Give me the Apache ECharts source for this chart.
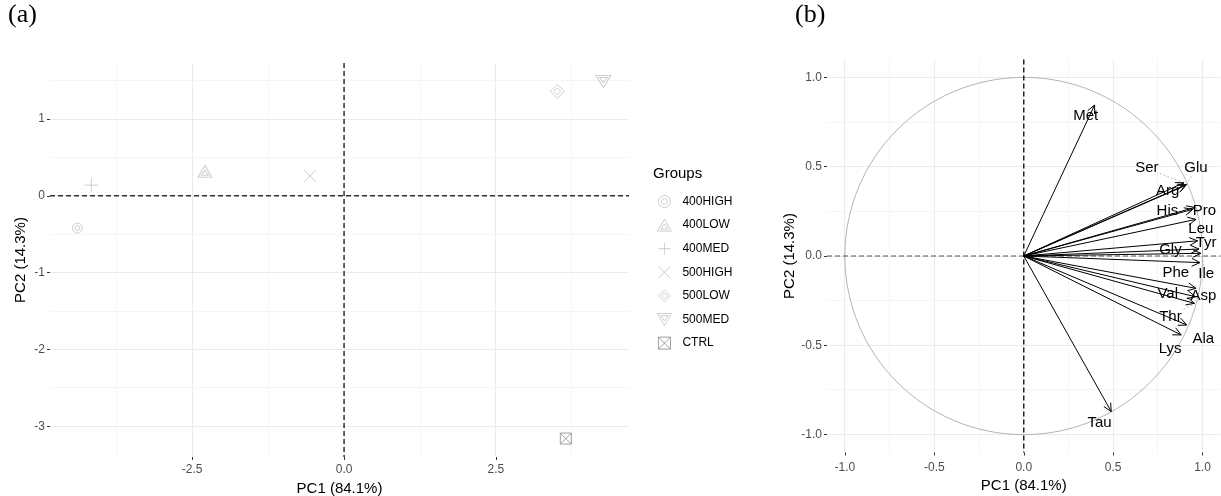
<!DOCTYPE html>
<html><head><meta charset="utf-8">
<script src="https://cdn.jsdelivr.net/npm/echarts@6/dist/echarts.min.js"></script>
<style>html,body{margin:0;padding:0;background:#fff}#c{width:1221px;height:496px}</style>
</head><body><div id="c"></div>
<script>
// ---------- Panel (a): PCA scores ----------
const groups = ['400HIGH', '400LOW', '400MED', '500HIGH', '500LOW', '500MED', 'CTRL'];
const pc1 = [-4.39, -2.29, -4.16, -0.56, 3.51, 4.27, 3.65];
const pc2 = [-0.42, 0.32, 0.14, 0.26, 1.36, 1.49, -3.16];
const aTicksX = [-2.5, 0, 2.5];
const aTicksY = [-3, -2, -1, 0, 1];
const aMinorX = [-3.75, -1.25, 1.25, 3.75];
const aMinorY = [-2.5, -1.5, -0.5, 0.5, 1.5];

// ---------- Panel (b): variable loadings ----------
const vars = ['Met', 'Ser', 'Glu', 'Arg', 'His', 'Pro', 'Leu', 'Tyr', 'Gly', 'Ile', 'Phe', 'Asp', 'Val', 'Thr', 'Ala', 'Lys', 'Tau'];
const loadX = [0.396, 0.895, 0.91, 0.905, 0.944, 0.957, 0.963, 0.972, 0.98, 0.99, 0.985, 0.963, 0.96, 0.954, 0.911, 0.88, 0.489];
const loadY = [0.845, 0.41, 0.40, 0.395, 0.261, 0.272, 0.205, 0.085, 0.039, 0.015, -0.037, -0.181, -0.228, -0.265, -0.386, -0.442, -0.871];
const labX = [0.346, 0.688, 0.963, 0.805, 0.803, 1.01, 0.99, 1.02, 0.82, 1.02, 0.85, 1.004, 0.805, 0.82, 1.004, 0.818, 0.424];
const labY = [0.783, 0.491, 0.491, 0.365, 0.252, 0.252, 0.153, 0.075, 0.034, -0.10, -0.093, -0.222, -0.214, -0.34, -0.464, -0.522, -0.936];
const connectVars = ['Ser', 'Glu', 'Ile', 'Asp', 'Thr'];
const bTicks = [-1, -0.5, 0, 0.5, 1];
const bMinor = [-0.75, -0.25, 0.25, 0.75];

const FONT = '"Liberation Sans", Arial, sans-serif';
const symbols = {
  '400HIGH': {p: 'path://M0,-10A10,10,0,1,1,0,10A10,10,0,1,1,0,-10ZM0,-5A5,5,0,1,1,0,5A5,5,0,1,1,0,-5Z', s: [10, 10]},
  '400LOW': {p: 'path://M0,-10L10,7.3L-10,7.3ZM0,-3L5.2,4.3L-5.2,4.3Z', s: [14, 12]},
  '400MED': {p: 'path://M-10,0L10,0M0,-10L0,10', s: [14, 14]},
  '500HIGH': {p: 'path://M-10,-10L10,10M10,-10L-10,10', s: [12, 12]},
  '500LOW': {p: 'path://M0,-10L10,0L0,10L-10,0ZM0,-5L5,0L0,5L-5,0Z', s: [14, 14]},
  '500MED': {p: 'path://M0,10L10,-7.3L-10,-7.3ZM0,3L5.2,-4.3L-5.2,-4.3Z', s: [15, 12]},
  'CTRL': {p: 'path://M-10,-10L10,-10L10,10L-10,10ZM-10,-10L10,10M10,-10L-10,10', s: [11, 11]}
};
function markerColor(g) { return g === 'CTRL' ? '#8a8a8a' : '#c2c2c2'; }

function crisp(v) { return Math.round(v - 0.5) + 0.5; }

function gridSeries(xi, yi, majX, minX, majY, minY) {
  const data = [];
  majX.forEach(v => data.push([v, 0, 0]));
  minX.forEach(v => data.push([v, 0, 1]));
  majY.forEach(v => data.push([v, 1, 0]));
  minY.forEach(v => data.push([v, 1, 1]));
  return {
    type: 'custom', xAxisIndex: xi, yAxisIndex: yi, silent: true, z: 0,
    data: data.map(d => ({value: [d[1] === 0 ? d[0] : 0, d[1] === 1 ? d[0] : 0, d[1], d[2]]})),
    renderItem: function (params, api) {
      const cs = params.coordSys;
      const o = api.value(2), m = api.value(3);
      const style = {stroke: m ? '#f3f3f3' : '#ebebeb', lineWidth: m ? 0.8 : 1.1};
      if (o === 0) {
        const x = crisp(api.coord([api.value(0), 0])[0]);
        return {type: 'line', shape: {x1: x, y1: cs.y, x2: x, y2: cs.y + cs.height}, style};
      }
      const y = crisp(api.coord([0, api.value(1)])[1]);
      return {type: 'line', shape: {x1: cs.x, y1: y, x2: cs.x + cs.width, y2: y}, style};
    }
  };
}

function zeroSeries(xi, yi, vStyle, hStyle) {
  return {
    type: 'custom', xAxisIndex: xi, yAxisIndex: yi, silent: true, z: 2,
    data: [{value: [0, 0]}],
    renderItem: function (params, api) {
      const cs = params.coordSys;
      const p = api.coord([0, 0]);
      return {type: 'group', children: [
        {type: 'line', shape: {x1: cs.x, y1: p[1], x2: cs.x + cs.width, y2: p[1]}, style: hStyle},
        {type: 'line', shape: {x1: p[0], y1: cs.y, x2: p[0], y2: cs.y + cs.height}, style: vStyle}
      ]};
    }
  };
}

const series = [];
series.push(gridSeries(0, 0, aTicksX, aMinorX, aTicksY, aMinorY));
series.push(gridSeries(1, 1, bTicks, bMinor, bTicks, bMinor));
series.push(zeroSeries(0, 0,
  {stroke: '#333', lineWidth: 1.5, lineDash: [5, 3]},
  {stroke: '#333', lineWidth: 1.5, lineDash: [5, 3]}));

groups.forEach((g, i) => {
  series.push({
    type: 'scatter', name: g, xAxisIndex: 0, yAxisIndex: 0, z: 5,
    symbol: symbols[g].p, symbolSize: symbols[g].s,
    itemStyle: {color: 'rgba(0,0,0,0)', borderColor: markerColor(g), borderWidth: 1},
    emphasis: {disabled: true},
    data: [[pc1[i], pc2[i]]]
  });
});

// circle of correlations
series.push({
  type: 'custom', xAxisIndex: 1, yAxisIndex: 1, silent: true, z: 1,
  data: [{value: [0, 0]}],
  renderItem: function (params, api) {
    const c = api.coord([0, 0]);
    const r = api.size([1, 1]);
    return {type: 'ellipse', shape: {cx: c[0], cy: c[1], rx: r[0], ry: r[1]},
      style: {fill: 'none', stroke: '#b5b5b5', lineWidth: 1}};
  }
});
series.push(zeroSeries(1, 1,
  {stroke: '#222', lineWidth: 1.5, lineDash: [5, 3]},
  {stroke: '#555', lineWidth: 1, lineDash: [5, 3]}));

// connector segments (label -> arrow tip)
series.push({
  type: 'custom', xAxisIndex: 1, yAxisIndex: 1, silent: true, z: 3,
  data: connectVars.map(n => { const i = vars.indexOf(n); return {value: [labX[i], labY[i], loadX[i], loadY[i]]}; }),
  renderItem: function (params, api) {
    const s = api.coord([api.value(0), api.value(1)]);
    const e = api.coord([api.value(2), api.value(3)]);
    const dx = e[0] - s[0], dy = e[1] - s[1];
    const t = Math.min(13 / Math.max(Math.abs(dx), 1e-6), 8 / Math.max(Math.abs(dy), 1e-6));
    const sx = s[0] + dx * Math.min(t, 0.95), sy = s[1] + dy * Math.min(t, 0.95);
    return {type: 'line', shape: {x1: sx, y1: sy, x2: e[0], y2: e[1]},
      style: {stroke: '#9a9a9a', lineWidth: 0.7, lineDash: [2, 2]}};
  }
});

// arrows
series.push({
  type: 'custom', xAxisIndex: 1, yAxisIndex: 1, silent: true, z: 4,
  data: vars.map((n, i) => ({value: [loadX[i], loadY[i]]})),
  renderItem: function (params, api) {
    const o = api.coord([0, 0]);
    const p = api.coord([api.value(0), api.value(1)]);
    const ang = Math.atan2(p[1] - o[1], p[0] - o[0]);
    const L = 9, a = Math.PI / 7;
    const h1 = [p[0] - L * Math.cos(ang - a), p[1] - L * Math.sin(ang - a)];
    const h2 = [p[0] - L * Math.cos(ang + a), p[1] - L * Math.sin(ang + a)];
    return {type: 'group', children: [
      {type: 'line', shape: {x1: o[0], y1: o[1], x2: p[0], y2: p[1]}, style: {stroke: '#000', lineWidth: 1}},
      {type: 'polyline', shape: {points: [h1, p, h2]}, style: {stroke: '#000', fill: 'none', lineWidth: 1}}
    ]};
  }
});

// variable labels
series.push({
  type: 'custom', xAxisIndex: 1, yAxisIndex: 1, silent: true, z: 6,
  data: vars.map((n, i) => ({value: [labX[i], labY[i], i]})),
  renderItem: function (params, api) {
    const p = api.coord([api.value(0), api.value(1)]);
    return {type: 'text', x: p[0], y: p[1],
      style: {text: vars[api.value(2)], fill: '#000', font: '15px ' + FONT, align: 'center', verticalAlign: 'middle'}};
  }
});

function axisCommon(ticks, fmt, margin, extra) {
  return Object.assign({
    type: 'value',
    splitLine: {show: false},
    axisLine: {show: false, onZero: false},
    axisTick: {show: true, length: 3, lineStyle: {color: '#333', width: 1}, customValues: ticks},
    axisLabel: {show: true, customValues: ticks, formatter: fmt, color: '#4d4d4d', fontSize: 12, fontFamily: FONT, margin: margin},
    nameLocation: 'middle',
    nameTextStyle: {fontSize: 15, color: '#000', fontFamily: FONT}
  }, extra);
}

const option = {
  animation: false,
  backgroundColor: '#fff',
  grid: [
    {left: 50, top: 63, width: 579, height: 394, containLabel: false, outerBoundsMode: 'none'},
    {left: 827, top: 59.5, width: 393.5, height: 393, containLabel: false, outerBoundsMode: 'none'}
  ],
  xAxis: [
    axisCommon(aTicksX, v => v.toFixed(1), 7, {gridIndex: 0, min: -4.84, max: 4.69, name: 'PC1 (84.1%)', nameGap: 22}),
    axisCommon(bTicks, v => v.toFixed(1), 9, {gridIndex: 1, min: -1.1, max: 1.1, name: 'PC1 (84.1%)', nameGap: 24})
  ],
  yAxis: [
    axisCommon(aTicksY, v => String(v), 5, {gridIndex: 0, min: -3.40, max: 1.73, name: 'PC2 (14.3%)', nameGap: 22}),
    axisCommon(bTicks, v => v.toFixed(1), 5, {gridIndex: 1, min: -1.1, max: 1.1, name: 'PC2 (14.3%)', nameGap: 27})
  ],
  legend: {
    show: true, orient: 'vertical', left: 652, top: 190,
    itemWidth: 26, itemHeight: 12, itemGap: 10.6, symbolKeepAspect: true,
    textStyle: {fontSize: 12, color: '#000', fontFamily: FONT},
    data: groups.map(g => ({name: g, itemStyle: {color: 'rgba(0,0,0,0)', borderColor: markerColor(g), borderWidth: 1}})),
    selectedMode: false
  },
  graphic: [
    {type: 'text', left: 653, top: 166, style: {text: 'Groups', font: '15px ' + FONT, fill: '#000'}},
    {type: 'text', left: 8, top: 2, style: {text: '(a)', font: '26px "Liberation Serif", "Times New Roman", serif', fill: '#000'}},
    {type: 'text', left: 795, top: 2, style: {text: '(b)', font: '26px "Liberation Serif", "Times New Roman", serif', fill: '#000'}}
  ],
  series: series
};

const chart = echarts.init(document.getElementById('c'), null, {renderer: 'canvas'});
chart.setOption(option);
</script>
</body></html>
